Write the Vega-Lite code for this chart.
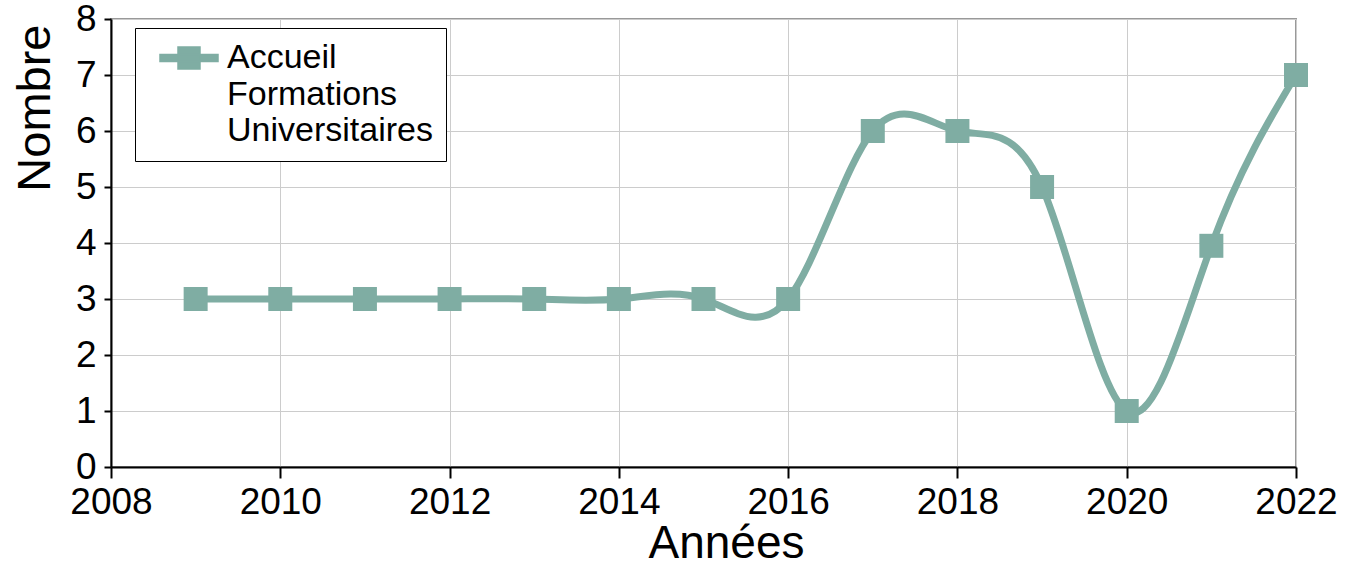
{
  "$schema": "https://vega.github.io/schema/vega-lite/v6.json",
  "autosize": {"type": "none"},
  "width": 1185,
  "height": 448,
  "padding": {"left": 111, "top": 19, "right": 53, "bottom": 98},
  "background": "white",
  "config": {
    "font": "Liberation Sans",
    "view": {"stroke": "#999999", "strokeWidth": 2},
    "legend": {"strokeColor": "#000000", "fillColor": "#ffffff"},
    "style": {"guide-label": {"lineHeight": 36.5}},
    "axis": {
      "domainColor": "#000000",
      "domainWidth": 2,
      "tickColor": "#000000",
      "tickWidth": 2,
      "gridColor": "#cccccc",
      "gridWidth": 1,
      "labelFont": "Liberation Sans",
      "labelFontSize": 37,
      "labelColor": "#000000",
      "titleFont": "Liberation Sans",
      "titleFontSize": 46,
      "titleFontWeight": "normal",
      "titleColor": "#000000"
    }
  },
  "data": {
    "values": [
      {"annee": 2009, "nombre": 3, "serie": "Accueil|Formations|Universitaires"},
      {"annee": 2010, "nombre": 3, "serie": "Accueil|Formations|Universitaires"},
      {"annee": 2011, "nombre": 3, "serie": "Accueil|Formations|Universitaires"},
      {"annee": 2012, "nombre": 3, "serie": "Accueil|Formations|Universitaires"},
      {"annee": 2013, "nombre": 3, "serie": "Accueil|Formations|Universitaires"},
      {"annee": 2014, "nombre": 3, "serie": "Accueil|Formations|Universitaires"},
      {"annee": 2015, "nombre": 3, "serie": "Accueil|Formations|Universitaires"},
      {"annee": 2016, "nombre": 3, "serie": "Accueil|Formations|Universitaires"},
      {"annee": 2017, "nombre": 6, "serie": "Accueil|Formations|Universitaires"},
      {"annee": 2018, "nombre": 6, "serie": "Accueil|Formations|Universitaires"},
      {"annee": 2019, "nombre": 5, "serie": "Accueil|Formations|Universitaires"},
      {"annee": 2020, "nombre": 1, "serie": "Accueil|Formations|Universitaires"},
      {"annee": 2021, "nombre": 3.95, "serie": "Accueil|Formations|Universitaires"},
      {"annee": 2022, "nombre": 7, "serie": "Accueil|Formations|Universitaires"}
    ]
  },
  "mark": {
    "type": "line",
    "interpolate": "natural",
    "strokeWidth": 7,
    "point": {"shape": "square", "size": 576, "filled": true, "opacity": 1}
  },
  "encoding": {
    "x": {
      "field": "annee",
      "type": "quantitative",
      "scale": {"domain": [2008, 2022], "nice": false, "zero": false},
      "axis": {
        "title": "Années",
        "values": [2008, 2010, 2012, 2014, 2016, 2018, 2020, 2022],
        "format": "d",
        "tickSize": 11,
        "labelPadding": 6,
        "titlePadding": 1,
        "titleX": 615,
        "labelFlush": false
      }
    },
    "y": {
      "field": "nombre",
      "type": "quantitative",
      "scale": {"domain": [0, 8], "nice": false},
      "axis": {
        "title": "Nombre",
        "values": [0, 1, 2, 3, 4, 5, 6, 7, 8],
        "tickSize": 7,
        "labelPadding": 8,
        "titlePadding": 16,
        "titleFontSize": 47,
        "titleAnchor": "end",
        "titleY": 5
      }
    },
    "color": {
      "field": "serie",
      "type": "nominal",
      "scale": {"range": ["#7fada3"]},
      "legend": {
        "title": null,
        "orient": "none",
        "legendX": 24,
        "legendY": 9,
        "direction": "vertical",
        "padding": 13,
        "symbolOffset": 24,
        "symbolType": "M-2.9,-0.35H2.9V0.35H-2.9Z M-1.1,-1.1H1.1V1.1H-1.1Z",
        "symbolSize": 400,
        "symbolFillColor": "#7fada3",
        "labelOffset": 21,
        "labelFont": "Liberation Sans",
        "labelFontSize": 34,
        "labelColor": "#000000",
        "labelLimit": 0,
        "labelBaseline": "middle",
        "labelExpr": "split(datum.label, '|')"
      }
    }
  }
}
